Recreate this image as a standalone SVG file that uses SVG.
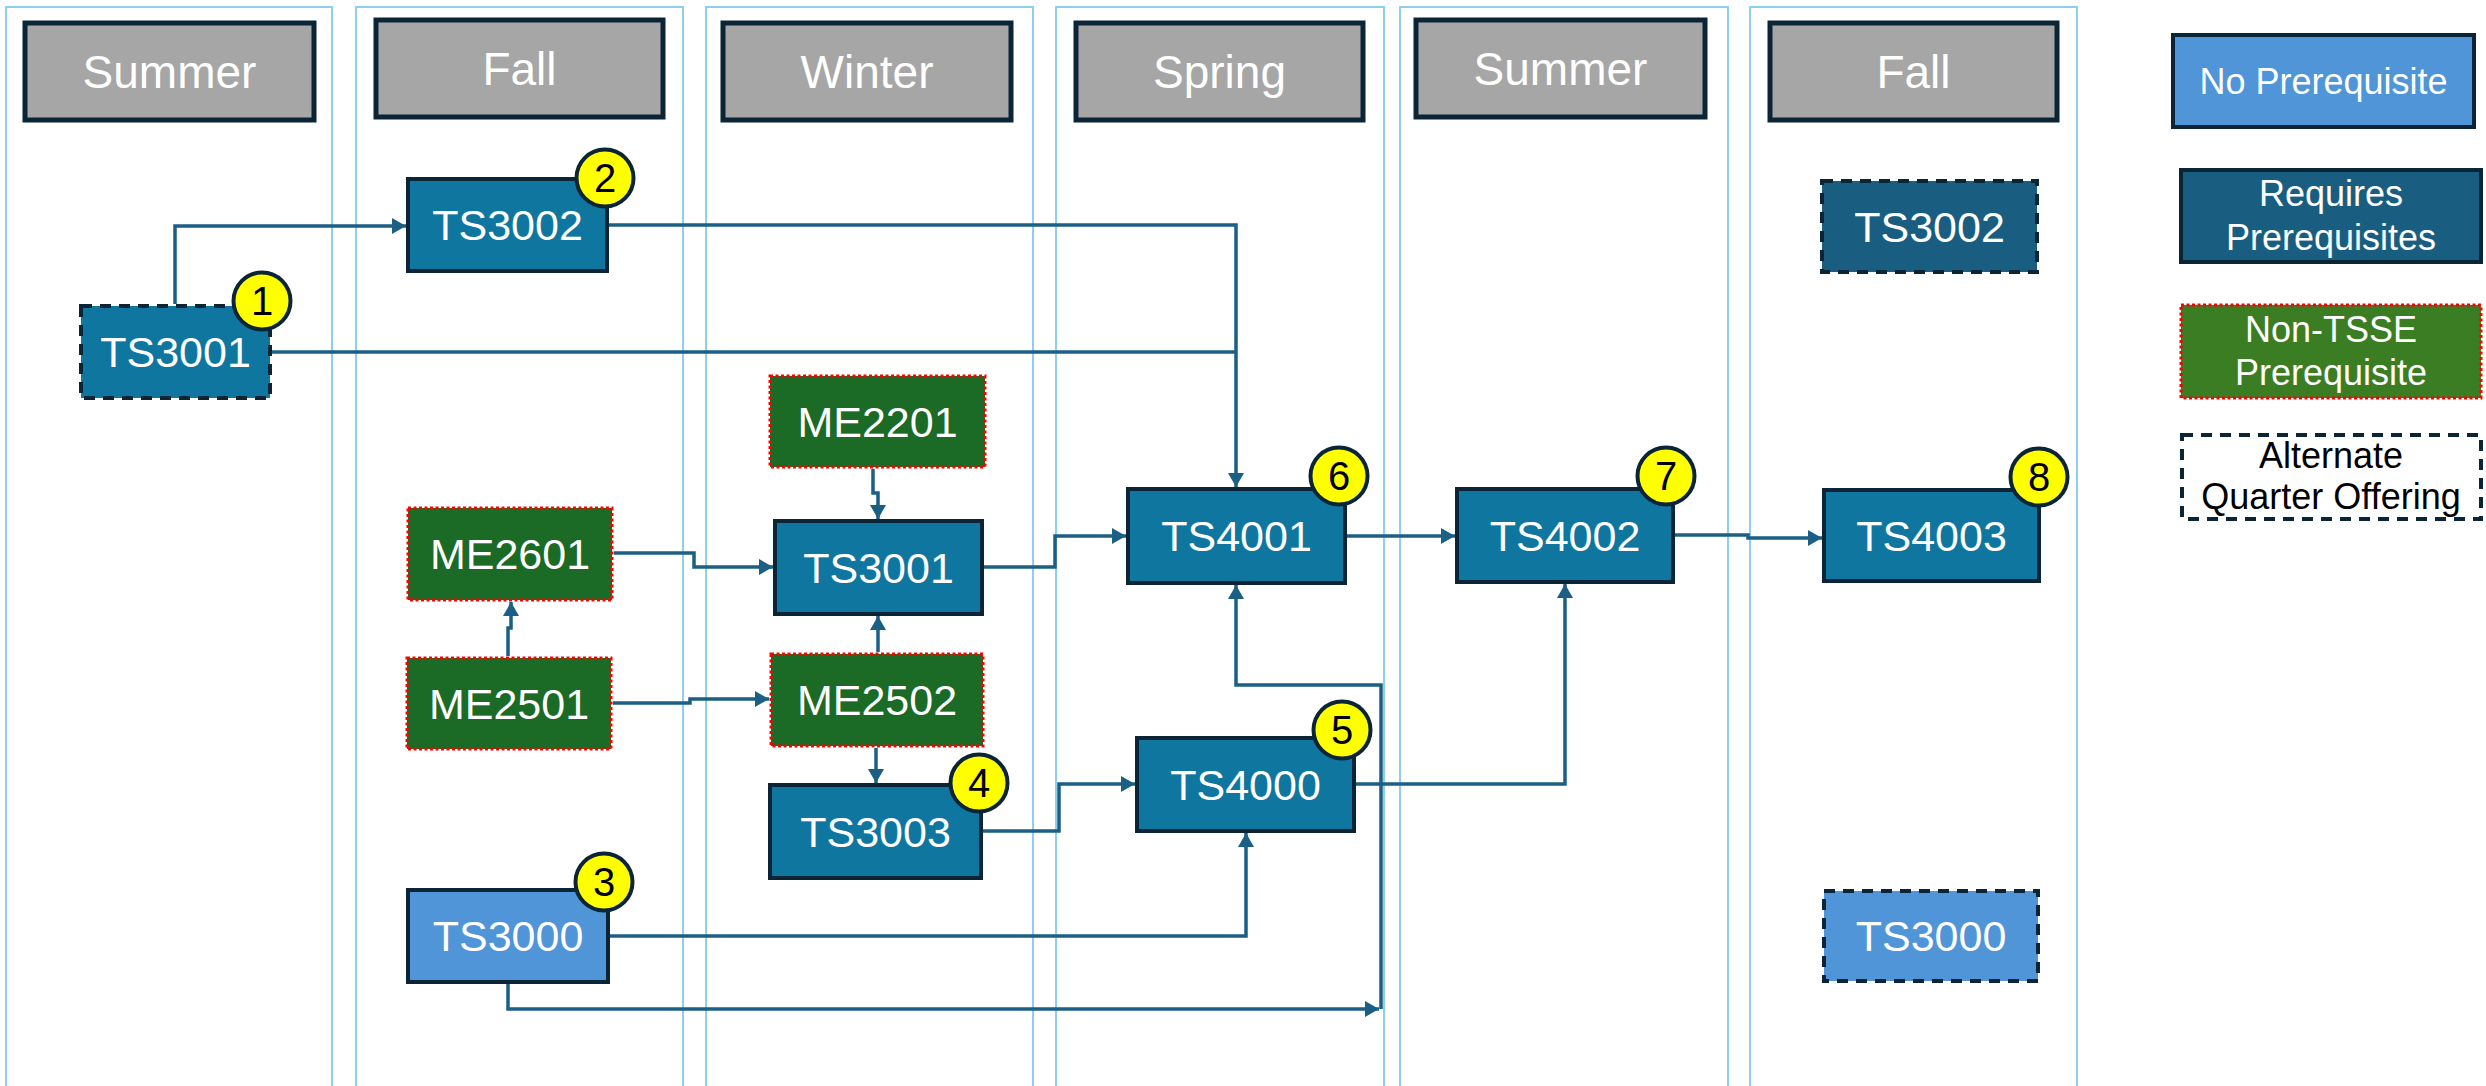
<svg xmlns="http://www.w3.org/2000/svg" width="2486" height="1086" viewBox="0 0 2486 1086">
  <style>
    text { font-family: "Liberation Sans", Arial, sans-serif; text-anchor: middle; }
    .lane { fill: #FFFFFF; stroke: #8ECFEE; stroke-width: 2; }
    .hdr rect { fill: #A6A6A6; stroke: #0B2536; stroke-width: 5; }
    .hdr text { fill: #FFFFFF; font-size: 46px; }
    .node rect { stroke: #0B2536; stroke-width: 4; }
    .node text { fill: #FFFFFF; font-size: 43px; }
    .req rect { fill: #0F76A0; }
    .req2 rect { fill: #195E80; }
    .nopre rect { fill: #4F95D8; }
    .alt rect { stroke-dasharray: 11 8; }
    .ext rect { fill: #1B6A25; stroke: #FF0000; stroke-width: 3; stroke-dasharray: 3 2.5; }
    .ext2 rect { fill: #3B7D23; stroke: #FF0000; stroke-width: 3; stroke-dasharray: 3 2.5; }
    .blank rect { fill: #FFFFFF; stroke-dasharray: 11 8; }
    .blank text { fill: #000000; }
    .legend text { font-size: 36px; }
    .badge circle { fill: #FFFF00; stroke: #0B2536; stroke-width: 4; }
    .badge text { fill: #000000; font-size: 40px; }
    .conn path { fill: none; stroke: #1B5F85; stroke-width: 3.5; }
  </style>
  <defs>
    <marker id="arrow" markerUnits="userSpaceOnUse" markerWidth="16" markerHeight="16" refX="14" refY="8" orient="auto">
      <path d="M0,0 L14,8 L0,16 Z" fill="#1B5F85"/>
    </marker>
  </defs>

  <rect width="2486" height="1086" fill="#FFFFFF"/>

  <!-- quarter lanes -->
  <g id="lanes">
    <rect class="lane" x="6" y="7" width="326" height="1090"/>
    <rect class="lane" x="356" y="7" width="327" height="1090"/>
    <rect class="lane" x="706" y="7" width="327" height="1090"/>
    <rect class="lane" x="1056" y="7" width="328" height="1090"/>
    <rect class="lane" x="1400" y="7" width="328" height="1090"/>
    <rect class="lane" x="1750" y="7" width="327" height="1090"/>
  </g>

  <!-- quarter headers -->
  <g id="hdr-summer1" class="hdr"><rect x="25" y="23" width="289" height="97"/><text x="169.5" y="88">Summer</text></g>
  <g id="hdr-fall1" class="hdr"><rect x="376" y="20" width="287" height="97"/><text x="519.5" y="85">Fall</text></g>
  <g id="hdr-winter" class="hdr"><rect x="723" y="23" width="288" height="97"/><text x="867" y="88">Winter</text></g>
  <g id="hdr-spring" class="hdr"><rect x="1076" y="23" width="287" height="97"/><text x="1219.5" y="88">Spring</text></g>
  <g id="hdr-summer2" class="hdr"><rect x="1416" y="20" width="289" height="97"/><text x="1560.5" y="85">Summer</text></g>
  <g id="hdr-fall2" class="hdr"><rect x="1770" y="23" width="287" height="97"/><text x="1913.5" y="88">Fall</text></g>

  <!-- connectors -->
  <g id="connectors" class="conn">
    <path d="M175,304 V226 H406" marker-end="url(#arrow)"/>
    <path d="M609,225 H1236 V487" marker-end="url(#arrow)"/>
    <path d="M272,352 H1236"/>
    <path d="M873,469 V493 H878 V519" marker-end="url(#arrow)"/>
    <path d="M614,553 H694 V567 H773" marker-end="url(#arrow)"/>
    <path d="M508,656 V628 H511 V602" marker-end="url(#arrow)"/>
    <path d="M613,703 H690 V699 H769" marker-end="url(#arrow)"/>
    <path d="M878,652 V616" marker-end="url(#arrow)"/>
    <path d="M876,748 V783" marker-end="url(#arrow)"/>
    <path d="M984,567 H1055 V536 H1126" marker-end="url(#arrow)"/>
    <path d="M983,831 H1059 V784 H1135" marker-end="url(#arrow)"/>
    <path d="M1347,536 H1455" marker-end="url(#arrow)"/>
    <path d="M1675,535 H1748 V538 H1822" marker-end="url(#arrow)"/>
    <path d="M1356,784 H1565 V584" marker-end="url(#arrow)"/>
    <path d="M610,936 H1246 V833" marker-end="url(#arrow)"/>
    <path d="M508,984 V1009 H1379" marker-end="url(#arrow)"/>
    <path d="M1381,1009 V685 H1236 V585" marker-end="url(#arrow)"/>
  </g>

  <!-- course nodes -->
  <g id="ts3001-summer" class="node req alt"><rect x="81" y="306" width="189" height="92"/><text x="175.5" y="367">TS3001</text></g>
  <g id="ts3002-fall" class="node req"><rect x="408" y="179" width="199" height="92"/><text x="507.5" y="240">TS3002</text></g>
  <g id="me2601" class="node ext"><rect x="408" y="508" width="204" height="92"/><text x="510" y="569">ME2601</text></g>
  <g id="me2501" class="node ext"><rect x="407" y="658" width="204" height="91"/><text x="509" y="719">ME2501</text></g>
  <g id="ts3000-fall" class="node nopre"><rect x="408" y="890" width="200" height="92"/><text x="508" y="951">TS3000</text></g>
  <g id="me2201" class="node ext"><rect x="770" y="376" width="215" height="91"/><text x="877.5" y="437">ME2201</text></g>
  <g id="ts3001-winter" class="node req"><rect x="775" y="521" width="207" height="93"/><text x="878.5" y="583">TS3001</text></g>
  <g id="me2502" class="node ext"><rect x="771" y="654" width="212" height="92"/><text x="877" y="715">ME2502</text></g>
  <g id="ts3003" class="node req"><rect x="770" y="785" width="211" height="93"/><text x="875.5" y="847">TS3003</text></g>
  <g id="ts4001" class="node req"><rect x="1128" y="489" width="217" height="94"/><text x="1236.5" y="551">TS4001</text></g>
  <g id="ts4000" class="node req"><rect x="1137" y="738" width="217" height="93"/><text x="1245.5" y="800">TS4000</text></g>
  <g id="ts4002" class="node req"><rect x="1457" y="489" width="216" height="93"/><text x="1565" y="551">TS4002</text></g>
  <g id="ts4003" class="node req"><rect x="1824" y="490" width="215" height="91"/><text x="1931.5" y="551">TS4003</text></g>
  <g id="ts3002-alt" class="node req2 alt"><rect x="1822" y="181" width="215" height="91"/><text x="1929.5" y="242">TS3002</text></g>
  <g id="ts3000-alt" class="node nopre alt"><rect x="1824" y="891" width="214" height="90"/><text x="1931" y="951">TS3000</text></g>

  <!-- sequence badges -->
  <g id="badge-1" class="badge"><circle cx="262" cy="301" r="28.5"/><text x="262" y="315">1</text></g>
  <g id="badge-2" class="badge"><circle cx="605" cy="178" r="28.5"/><text x="605" y="192">2</text></g>
  <g id="badge-3" class="badge"><circle cx="604" cy="882" r="28.5"/><text x="604" y="896">3</text></g>
  <g id="badge-4" class="badge"><circle cx="979" cy="783" r="28.5"/><text x="979" y="797">4</text></g>
  <g id="badge-5" class="badge"><circle cx="1342" cy="730" r="28.5"/><text x="1342" y="744">5</text></g>
  <g id="badge-6" class="badge"><circle cx="1339" cy="476" r="28.5"/><text x="1339" y="490">6</text></g>
  <g id="badge-7" class="badge"><circle cx="1666" cy="476" r="28.5"/><text x="1666" y="490">7</text></g>
  <g id="badge-8" class="badge"><circle cx="2039" cy="477" r="28.5"/><text x="2039" y="491">8</text></g>

  <!-- legend -->
  <g id="legend-no-prereq" class="node nopre legend"><rect x="2173" y="35" width="301" height="92"/><text x="2323.5" y="94">No Prerequisite</text></g>
  <g id="legend-requires" class="node req2 legend"><rect x="2181" y="170" width="300" height="92"/><text x="2331" y="206">Requires</text><text x="2331" y="250">Prerequisites</text></g>
  <g id="legend-non-tsse" class="node ext2 legend"><rect x="2181" y="305" width="300" height="93"/><text x="2331" y="342">Non-TSSE</text><text x="2331" y="385">Prerequisite</text></g>
  <g id="legend-alternate" class="node blank legend"><rect x="2182" y="435" width="299" height="84"/><text x="2331" y="468">Alternate</text><text x="2331" y="509">Quarter Offering</text></g>
</svg>
